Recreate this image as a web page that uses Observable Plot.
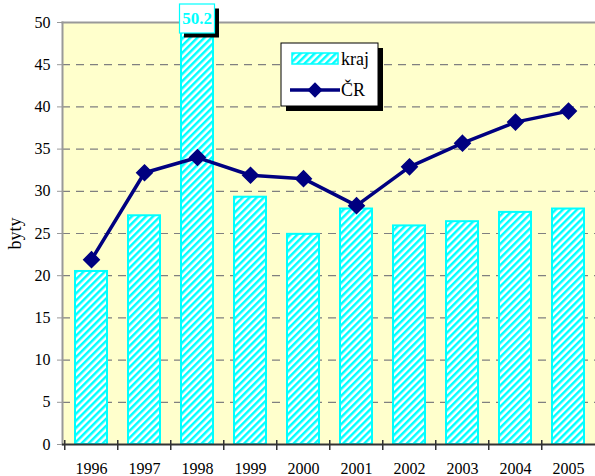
<!DOCTYPE html>
<html>
<head>
<meta charset="utf-8">
<script src="https://cdn.jsdelivr.net/npm/d3@7"></script>
<script src="https://cdn.jsdelivr.net/npm/@observablehq/plot@0.6"></script>
<style>
  html, body { margin: 0; padding: 0; background: #fff; overflow: hidden; width: 595px; height: 476px; }
  #chart { position: relative; width: 597px; height: 476px; }
  svg { font-family: "Liberation Serif", "Times New Roman", serif; }
</style>
</head>
<body>
<div id="chart"></div>
<script>
// ---- data ----
const years = ["1996", "1997", "1998", "1999", "2000", "2001", "2002", "2003", "2004", "2005"];
const kraj = [20.5, 27.1, 50.2, 29.3, 24.9, 27.9, 25.9, 26.4, 27.5, 27.9];
const cr = [21.9, 32.2, 34.0, 31.9, 31.5, 28.3, 32.9, 35.7, 38.2, 39.5];
const yTicks = [0, 5, 10, 15, 20, 25, 30, 35, 40, 45, 50];
const gridTicks = [5, 10, 15, 20, 25, 30, 35, 40, 45];
const highlight = { year: "1998", label: "50.2" };
const seriesNames = ["kraj", "ČR"];

const data = years.map((year, i) => ({ year, kraj: kraj[i], cr: cr[i] }));

// ---- layout ----
const W = 597, H = 476;
const mL = 62, mR = 0, mT = 22, mB = 32;
const step = (W - mL - mR) / years.length;
const padIn = 0.4, padOut = 0.2;
const halfStep = step / 2;

const navy = "#000080";
const cyan = "#00FFFF";

const plot = Plot.plot({
  width: W, height: H,
  marginLeft: mL, marginRight: mR, marginTop: mT, marginBottom: mB,
  style: { fontFamily: "Liberation Serif, serif", fontSize: "16px", background: "transparent", overflow: "visible" },
  x: { domain: years, paddingInner: padIn, paddingOuter: padOut, axis: null },
  y: { domain: [0, 50], axis: null },
  marks: [
    Plot.frame({ fill: "#FFFFCC", stroke: null }),
    Plot.gridY(gridTicks, { stroke: "#808080", strokeOpacity: 1, strokeWidth: 1.2, strokeDasharray: "8,6" }),
    Plot.barY(data, { x: "year", y: "kraj", fill: "url(#stripes)", stroke: cyan, strokeWidth: 2 }),
    Plot.line(data, { x: "year", y: "cr", stroke: navy, strokeWidth: 3.5 }),
    Plot.dot(data, { x: "year", y: "cr", symbol: "diamond2", r: 7, fill: navy, stroke: navy }),
    // top and left borders (gray)
    Plot.frame({ anchor: "top", stroke: "#999", strokeWidth: 2 }),
    Plot.frame({ anchor: "left", stroke: "#999", strokeWidth: 2 }),
    Plot.axisY({ ticks: yTicks, tickSize: 5, tickPadding: 7, stroke: "#999", fill: "#000", fontSize: 16,
                 label: "byty", labelArrow: "none", labelAnchor: "center", labelOffset: 54 }),
    // x labels centered in bands
    Plot.axisX({ ticks: years, tickSize: 0, tickPadding: 18, fill: "#000", fontSize: 16, label: null }),
    // x ticks at band boundaries
    Plot.axisX({ ticks: years, tickSize: 10, dx: -halfStep, dy: -4, stroke: "#333", strokeWidth: 1.5, tickFormat: () => "", label: null }),
    Plot.ruleY([0], { stroke: "#333", strokeWidth: 2 })
  ]
});

// pattern defs
const svg = d3.select(plot);
const defs = svg.insert("defs", ":first-child");
const pat = defs.append("pattern")
  .attr("id", "stripes").attr("patternUnits", "userSpaceOnUse")
  .attr("width", 5).attr("height", 5)
  .attr("patternTransform", "rotate(45)");
pat.append("rect").attr("width", 5).attr("height", 5).attr("fill", "#fff");
pat.append("rect").attr("width", 2.5).attr("height", 5).attr("fill", cyan);

// enlarge the y-axis label
svg.selectAll("[aria-label='y-axis label'] text").attr("font-size", 18);

// value label on 1998 bar, positioned via the plot's scales
const xs = plot.scale("x"), ys = plot.scale("y");
const bx = xs.apply(highlight.year) + xs.bandwidth / 2;
const by = ys.apply(50) - 3.5;
const lab = svg.append("g");
lab.append("rect").attr("x", bx - 13).attr("y", by - 10).attr("width", 35).attr("height", 29).attr("fill", "#000");
lab.append("rect").attr("x", bx - 17.5).attr("y", by - 14.5).attr("width", 35).attr("height", 29).attr("fill", "#fff").attr("stroke", cyan).attr("stroke-width", 1.2);
lab.append("text").attr("x", bx).attr("y", by).attr("text-anchor", "middle").attr("dy", "0.35em")
  .attr("fill", cyan).attr("font-weight", "bold").attr("font-size", 17).text(highlight.label);

// legend
const lg = svg.append("g").attr("transform", "translate(281,43)").attr("text-anchor", "start");
lg.append("rect").attr("x", 5).attr("y", 5).attr("width", 97).attr("height", 63).attr("fill", "#000");
lg.append("rect").attr("x", 0).attr("y", 0).attr("width", 97).attr("height", 63).attr("fill", "#fff").attr("stroke", "#000").attr("stroke-width", 1);
lg.append("rect").attr("x", 11).attr("y", 10).attr("width", 46).attr("height", 11).attr("fill", "url(#stripes)").attr("stroke", cyan).attr("stroke-width", 1.5);
lg.append("text").attr("x", 60).attr("y", 16).attr("dy", "0.35em").attr("text-anchor", "start").attr("font-size", 18).text(seriesNames[0]);
lg.append("line").attr("x1", 9).attr("x2", 59).attr("y1", 47).attr("y2", 47).attr("stroke", navy).attr("stroke-width", 3.5);
lg.append("path").attr("d", d3.symbol(d3.symbolDiamond2, 150)()).attr("transform", "translate(34,47)").attr("fill", navy);
lg.append("text").attr("x", 60).attr("y", 47).attr("dy", "0.35em").attr("text-anchor", "start").attr("font-size", 18).text(seriesNames[1]);

document.getElementById("chart").appendChild(plot);
</script>
</body>
</html>
